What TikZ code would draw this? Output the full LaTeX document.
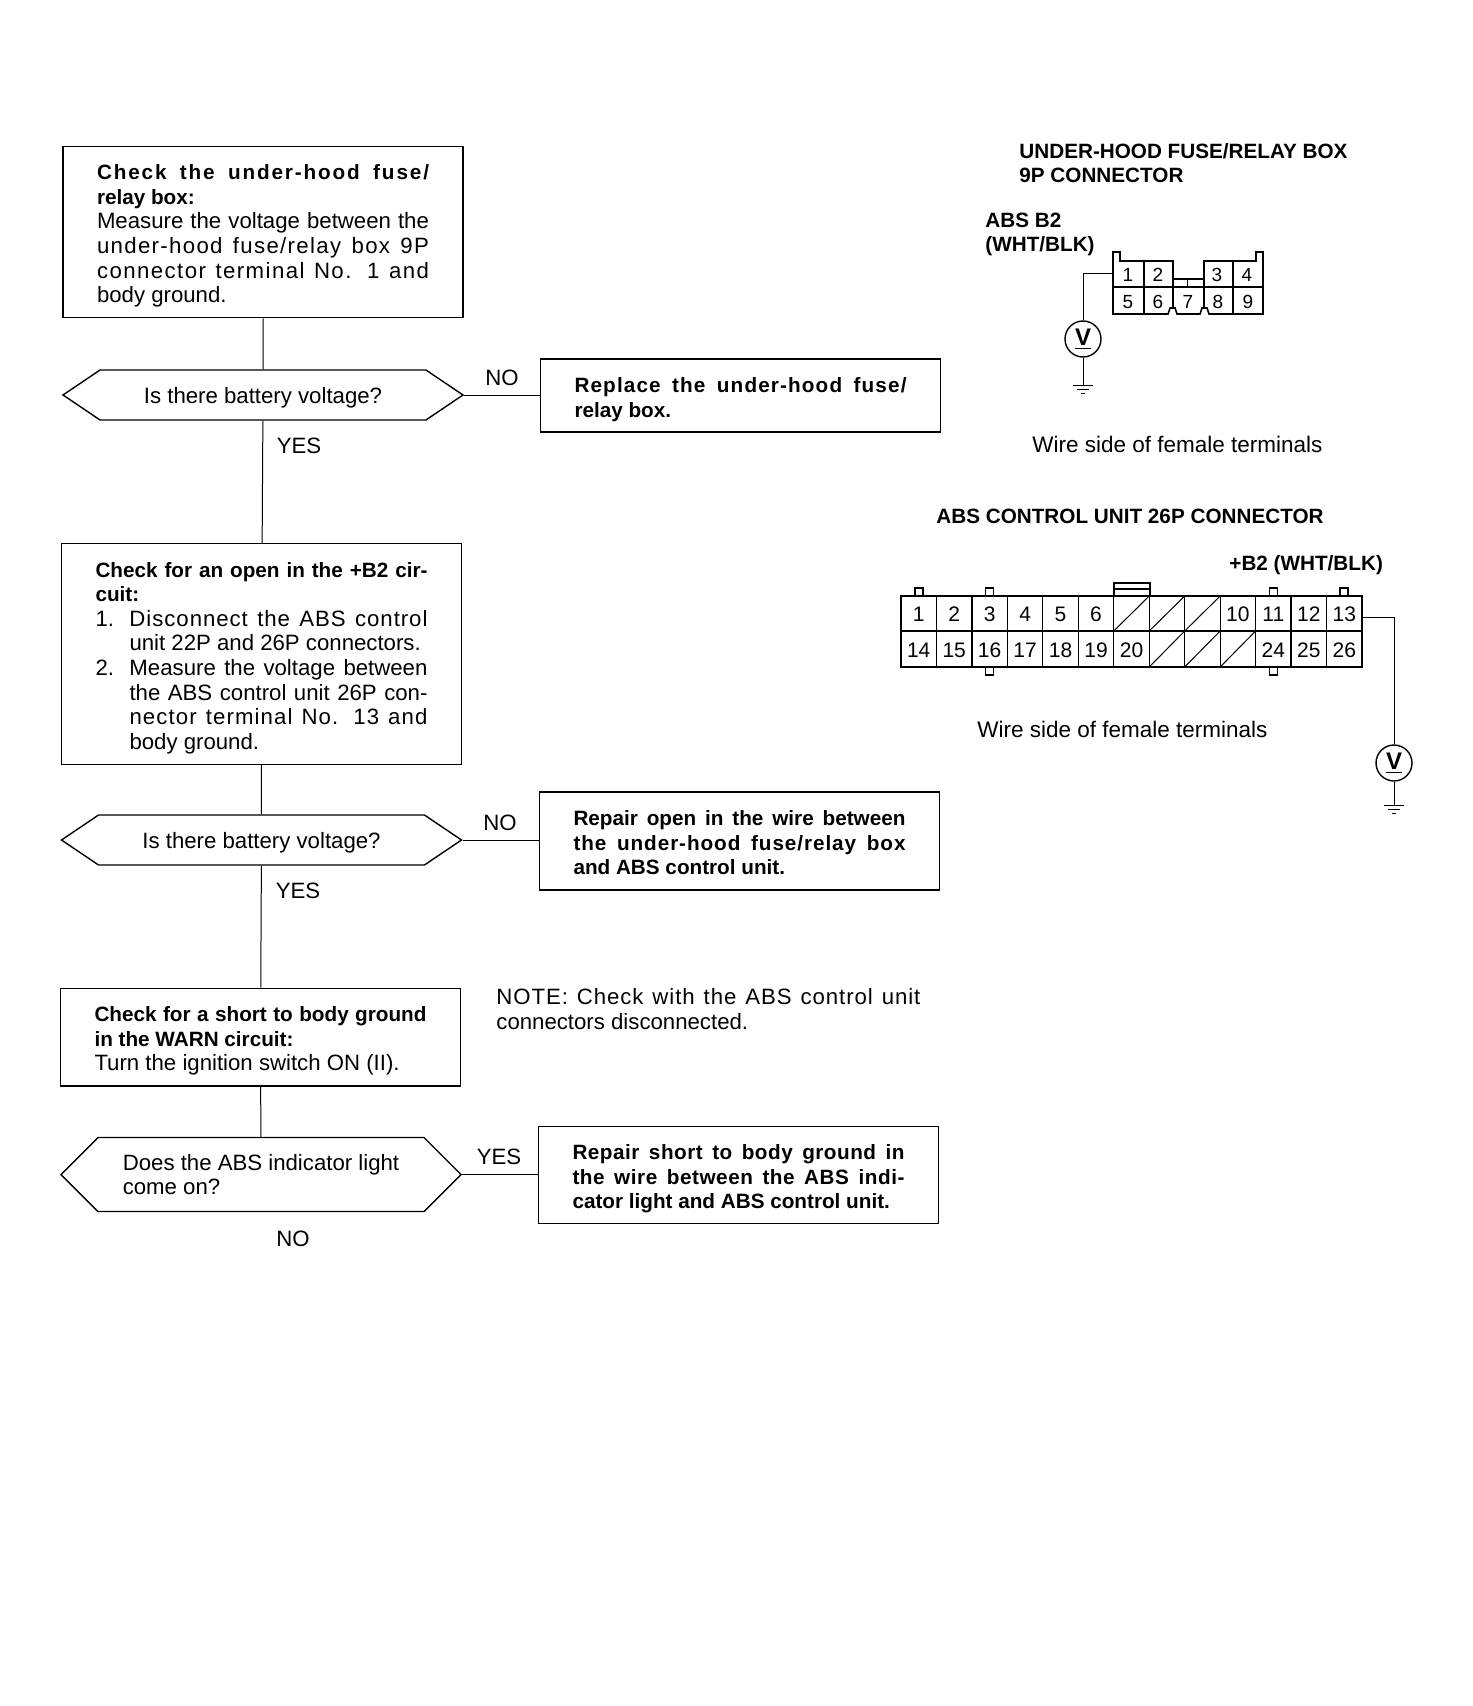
\documentclass[tikz,border=0pt]{standalone}
\usepackage{fontspec}
\setmainfont{Liberation Sans}
\usetikzlibrary{shapes.symbols}
\setlength{\parindent}{0pt}
\tikzset{
  flowbox/.style={draw,line width=0.7pt,text width=166pt,align=flush left,inner xsep=17pt,inner ysep=5.2pt,font=\flowfont,execute at begin node=\rule{0pt}{11.5pt}},
  decision/.style={draw,line width=0.7pt,signal,signal to=west and east,signal pointer angle=#1,minimum width=200pt,inner sep=0pt,font=\flowfont},
  flowlabel/.style={font=\flowfont,inner sep=0pt},
  flowtext/.style={font=\flowfont,inner sep=0pt,anchor=base west,align=flush left},
  headtext/.style={font=\headfont,inner sep=0pt,anchor=base west,align=left},
  pinnum/.style={font=\pinfont,inner sep=0pt},
  voltmeter/.style={draw,circle,line width=0.7pt,minimum size=18pt,inner sep=0pt,font=\fontsize{12}{12}\selectfont\bfseries},
  wire/.style={line width=0.5pt}
}
\newcommand{\flowfont}{\fontsize{11.1}{12.3}\selectfont}
\newcommand{\headfont}{\fontsize{10.35}{12}\selectfont\bfseries}
\newcommand{\pinfont}{\fontsize{10.5}{12}\selectfont}
\newcommand{\boldfont}{\fontsize{10.35}{12.3}\selectfont\bfseries}
\newcommand{\jl}[2][0]{\hbox to 166pt{\addfontfeature{LetterSpace=#1}#2}\par}
\newcommand{\jb}[2][0]{\hbox to 166pt{\boldfont\addfontfeature{LetterSpace=#1}#2}\par}
\newcommand{\jn}[3][0]{\hbox to 166pt{\hbox to 17pt{#2\hss}\addfontfeature{LetterSpace=#1}#3}\par}
\newcommand{\jm}[2][0]{\hbox to 166pt{\hskip 17pt\addfontfeature{LetterSpace=#1}#2}\par}
\begin{document}
\begin{tikzpicture}[x=0.5pt,y=-0.5pt]
\newcommand{\earthsym}[1]{\draw[wire] (#1) +(-10,0) -- +(10,0) +(-6,4) -- +(6,4) +(-2,8) -- +(2,8);}
\useasboundingbox (0,0) rectangle (1472,1706);
% flow chart, left side
\node[flowbox] (checkfuse) at (263,232) {\jb[9]{Check the under-hood fuse/}{\boldfont relay box:}\par
\jl{Measure the voltage between the}\jl[6]{under-hood fuse/relay box 9P}\jl[6.5]{connector terminal No. 1 and}body ground.};
\node[decision=68,minimum height=25pt,text height=11.2pt,text depth=2.3pt] (batone) at (263,395) {Is there battery voltage?};
\node[flowbox] (replacefuse) at (740.5,395.5) {\jb[5.5]{Replace the under-hood fuse/}{\boldfont relay box.}};
\node[flowbox] (checkopen) at (261.5,654) {\jb{Check for an open in the +B2 cir-}{\boldfont cuit:}\par
\jn[4.3]{1.}{Disconnect the ABS control}\hspace*{17pt}unit 22P and 26P connectors.\par
\jn{2.}{Measure the voltage between}\jm{the ABS control unit 26P con-}\jm[5]{nector terminal No. 13 and}\hspace*{17pt}body ground.};
\node[decision=68,minimum height=25pt,text height=11.2pt,text depth=2.3pt] (battwo) at (261.5,840) {Is there battery voltage?};
\node[flowbox] (repairopen) at (739.5,841) {\jb{Repair open in the wire between}\jb[4.5]{the under-hood fuse/relay box}{\boldfont and ABS control unit.\rule[-2.4pt]{0pt}{0pt}}};
\node[flowbox] (checkshort) at (260.5,1037) {\jb{Check for a short to body ground}{\boldfont in the WARN circuit:}\par
Turn the ignition switch ON (II).};
\node[flowtext] (noteline) at (496,1029) {\hbox to 212pt{\addfontfeature{LetterSpace=4.2}NOTE: Check with the ABS control unit}\\connectors disconnected.};
\node[decision=90,minimum height=37pt,align=left] (lighton) at (261,1174.5) {Does the ABS indicator light\\come on?};
\node[flowbox] (repairshort) at (738.5,1175) {\jb[2.5]{Repair short to body ground in}\jb[2.7]{the wire between the ABS indi-}{\boldfont cator light and ABS control unit.}};
\draw[wire] (checkfuse) -- (batone);
\draw[wire] (batone) -- (checkopen);
\draw[wire] (checkopen) -- (battwo);
\draw[wire] (battwo) -- (checkshort);
\draw[wire] (checkshort) -- (lighton);
\draw[wire] (batone.east) -- (batone.east -| replacefuse.west);
\draw[wire] (battwo.east) -- (battwo.east -| repairopen.west);
\draw[wire] (lighton.east) -- (lighton.east -| repairshort.west);
\node[flowlabel] (noone) at (502,378) {NO};
\node[flowlabel] (yesone) at (299,446) {YES};
\node[flowlabel] (notwo) at (500,823) {NO};
\node[flowlabel] (yestwo) at (298,891) {YES};
\node[flowlabel] (yesthree) at (499,1157) {YES};
\node[flowlabel] (nothree) at (293,1239) {NO};
% 9P connector
\node[headtext] (fusehead) at (1019,183) {UNDER-HOOD FUSE/RELAY BOX\\9P CONNECTOR};
\node[headtext] (absbtwo) at (985,252) {ABS B2\\(WHT/BLK)};
\draw[line width=0.8pt] (1113,314) -- (1113,252) -- (1120,252) -- (1120,261) -- (1173,261) -- (1173,279) -- (1204,279) -- (1204,261) -- (1256,261) -- (1256,252) -- (1263,252) -- (1263,314) -- (1209,314) -- (1207,308) -- (1202,308) -- (1200,314) -- (1177,314) -- (1175,308) -- (1170,308) -- (1168,314) -- cycle;
\draw[line width=0.8pt] (1113,287) -- (1263,287);
\foreach \x in {1144,1233} \draw[line width=0.8pt] (\x,261) -- (\x,314);
\draw[line width=0.8pt] (1173,279) -- (1173,308) (1204,279) -- (1204,308);
\draw[wire] (1187,279) -- (1187,287);
\foreach \x/\y/\n in {1128/275/1,1158/275/2,1217/275/3,1247/275/4,1128/302/5,1158/302/6,1188/302/7,1218/302/8,1248/302/9}
  \node[pinnum,font=\fontsize{9.5}{12}\selectfont] (ninep\n) at (\x,\y) {\n};
\coordinate (pinone) at (1113,274);
\node[voltmeter] (voltone) at (1083,339) {\underline{V}};
\coordinate (gndone) at (1083,385);
\draw[wire] (pinone) -| (voltone.north);
\draw[wire] (voltone.south) -- (gndone);
\earthsym{gndone}
\node[flowtext,font=\fontsize{11.25}{12.3}\selectfont] (wireone) at (1032,452) {Wire side of female terminals};
% 26P connector
\node[headtext] (abshead) at (936,523) {ABS CONTROL UNIT 26P CONNECTOR};
\node[headtext] (bplus) at (1229,570) {+B2 (WHT/BLK)};
\draw[line width=0.8pt] (901,596) rectangle (1362,667);
\draw[line width=0.8pt] (901,631) -- (1362,631);
\foreach \c in {1,...,12} \draw[line width=0.6pt] ({901+\c*35.46},596) -- ({901+\c*35.46},667);
\foreach \c in {1,3,11,13} \draw[line width=0.8pt] ({901+(\c-.5)*35.46-4},596) -- ++(0,-8) -- ++(8,0) -- ++(0,8);
\foreach \c in {3,11} \draw[line width=0.8pt] ({901+(\c-.5)*35.46-4},667) -- ++(0,8) -- ++(8,0) -- ++(0,-8);
\draw[line width=0.8pt] (1114,596) -- (1114,583) -- (1150,583) -- (1150,596) (1114,589) -- (1150,589);
\foreach \c in {6,7,8} \draw[wire] ({901+\c*35.46},631) -- ({901+(\c+1)*35.46},596);
\foreach \c in {7,8,9} \draw[wire] ({901+\c*35.46},667) -- ({901+(\c+1)*35.46},631);
\foreach \c/\n in {1/1,2/2,3/3,4/4,5/5,6/6,10/10,11/11,12/12,13/13}
  \node[pinnum] (topp\n) at ({901+(\c-.5)*35.46},614) {\n};
\foreach \c/\n in {1/14,2/15,3/16,4/17,5/18,6/19,7/20,11/24,12/25,13/26}
  \node[pinnum] (botp\n) at ({901+(\c-.5)*35.46},650) {\n};
\coordinate (pintwo) at (1362,617);
\node[voltmeter] (volttwo) at (1394,763) {\underline{V}};
\coordinate (gndtwo) at (1394,805);
\draw[wire] (pintwo) -| (volttwo.north);
\draw[wire] (volttwo.south) -- (gndtwo);
\earthsym{gndtwo}
\node[flowtext,font=\fontsize{11.25}{12.3}\selectfont] (wiretwo) at (977,737) {Wire side of female terminals};
\end{tikzpicture}
\end{document}
